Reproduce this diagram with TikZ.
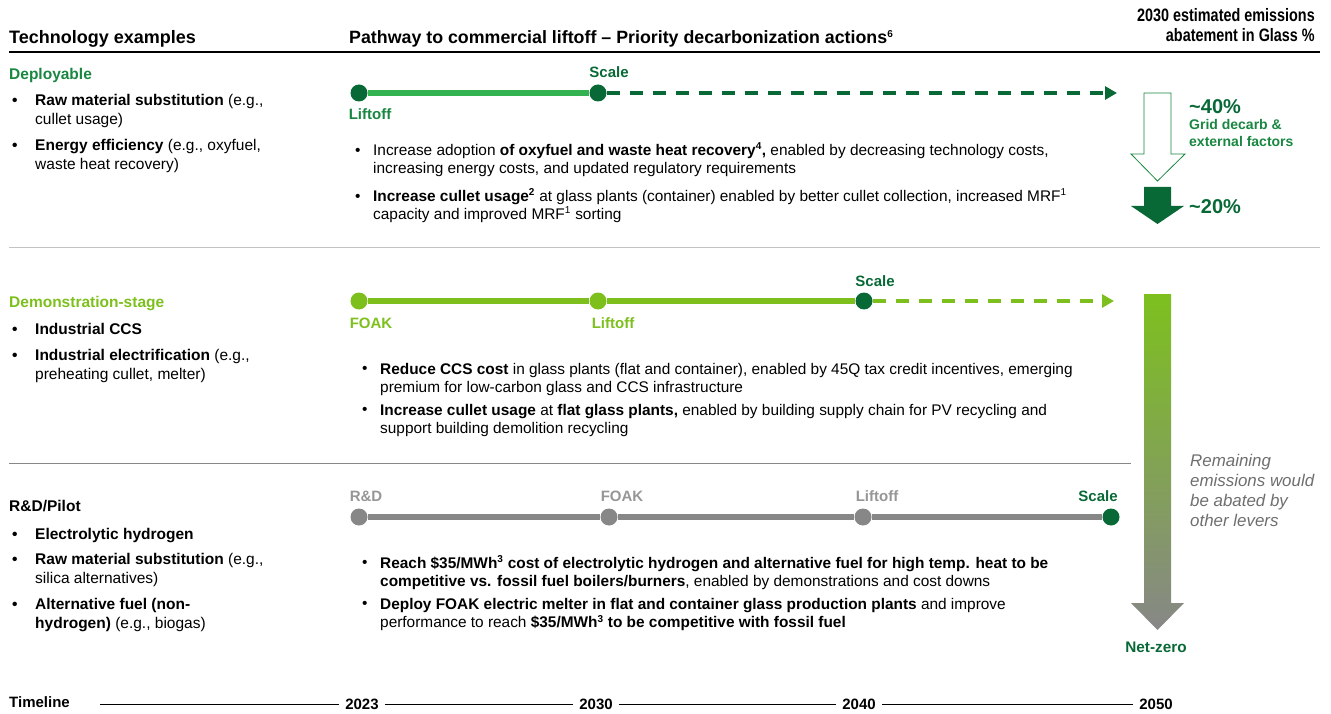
\documentclass[tikz,border=0pt]{standalone}
\usepackage{fontspec}
\setmainfont{Liberation Sans}
\newfontfamily\condfont[FakeStretch=0.8]{Liberation Sans}
\usetikzlibrary{arrows.meta}
\definecolor{dkgreen}{RGB}{8,105,55}
\definecolor{lblgreen}{RGB}{25,135,65}
\definecolor{brgreen}{RGB}{50,178,80}
\definecolor{lime}{RGB}{125,192,30}
\definecolor{tlgray}{RGB}{135,135,135}
\definecolor{lblgray}{RGB}{150,150,150}
\definecolor{itgray}{RGB}{110,110,110}
\definecolor{sepgray}{RGB}{195,195,195}
\tikzset{
  txt/.style={anchor=north west, inner sep=0pt, align=left},
  lefttxt/.style={txt, font=\fontsize{15.5}{19}\selectfont},
  r1txt/.style={txt, font=\fontsize{15.4}{18}\selectfont},
  r2txt/.style={txt, font=\fontsize{15.4}{18.5}\selectfont},
  lbul/.style={anchor=north west, inner sep=0pt, font=\bfseries\fontsize{15.5}{19}\selectfont},
  bul/.style={anchor=north west, inner sep=0pt, font=\fontsize{15.4}{18}\selectfont},
  hdr/.style={anchor=base west, inner sep=0pt, font=\bfseries\fontsize{18}{20}\selectfont},
  cat/.style={anchor=base west, inner sep=0pt, font=\bfseries\fontsize{15.5}{18}\selectfont},
  dot/.style={circle, minimum size=17pt, inner sep=0pt},
  mlbl/.style={inner sep=0pt, font=\bfseries\fontsize{15}{17}\selectfont},
  glbl/.style={inner sep=0pt, font=\bfseries\fontsize{15}{17}\selectfont, text=lblgray},
  solidline/.style={line width=6.5pt},
  dashline/.style={line width=4pt, dash pattern=on 13pt off 10pt, -{Triangle[length=12pt,width=13pt]}},
  year/.style={inner xsep=6pt, inner ysep=0pt, font=\bfseries\fontsize{15}{17}\selectfont},
}
\newcommand{\sups}[1]{\textsuperscript{\fontsize{10}{10}\selectfont #1}}
\begin{document}
\begin{tikzpicture}[x=1pt,y=-1pt]
\useasboundingbox (0,0) rectangle (1331,714);

% ---------- headers ----------
\node[hdr] (h1) at (9,44) {Technology examples};
\node[hdr, font=\bfseries\fontsize{17.8}{20}\selectfont] (h2) at (349,44) {Pathway to commercial liftoff – Priority decarbonization actions\sups{6}};
\node[anchor=north east, inner sep=0pt, align=right, font=\condfont\bfseries\fontsize{18}{20}\selectfont] (h3) at (1315,7) {\strut 2030 estimated emissions\\abatement in Glass \%};
\draw[line width=1.6pt] (9,52) -- (1320,52);

% ---------- row 1: Deployable ----------
\node[cat, text=lblgreen] (dep) at (9,80) {Deployable};
\node[lbul] (lb1) at (12,91.7) {\strut•};
\node[lefttxt] (li1) at (35,91.7) {\strut\textbf{Raw material substitution} (e.g.,\\cullet usage)};
\node[lbul] (lb2) at (12,136.7) {\strut•};
\node[lefttxt] (li2) at (35,136.7) {\strut\textbf{Energy efficiency} (e.g., oxyfuel,\\waste heat recovery)};

\node[dot, fill=dkgreen] (r1a) at (359,93) {};
\node[dot, fill=dkgreen] (r1b) at (598,93) {};
\coordinate (r1end) at (1117,93);
\draw[brgreen, solidline] (r1a.east) -- (r1b.west);
\draw[dkgreen, dashline] (r1b.east) -- (r1end);
\node[mlbl, text=dkgreen] (r1bl) at (609,72) {Scale};
\node[mlbl, text=lblgreen] (r1al) at (370,114) {Liftoff};

\node[bul] (b11) at (355,142.4) {\strut•};
\node[r1txt] (p11) at (373,142.4) {\strut Increase adoption \textbf{of oxyfuel and waste heat recovery\sups{4},} enabled by decreasing technology costs,\\increasing energy costs, and updated regulatory requirements};
\node[bul] (b12) at (355,188.4) {\strut•};
\node[r1txt] (p12) at (373,188.4) {\strut\textbf{Increase cullet usage\sups{2}} at glass plants (container) enabled by better cullet collection, increased MRF\sups{1}\\capacity and improved MRF\sups{1} sorting};

% hollow and filled arrows
\draw[lblgreen, line width=0.8pt, fill=white] (1144,93) -- (1171,93) -- (1171,154) -- (1185,154) -- (1157.5,181) -- (1131,154) -- (1144,154) -- cycle;
\fill[dkgreen] (1144,187) -- (1171,187) -- (1171,206) -- (1184,206) -- (1157.5,224) -- (1131,206) -- (1144,206) -- cycle;
\node[anchor=west, inner sep=0pt, font=\bfseries\fontsize{20}{22}\selectfont, text=dkgreen] (p40) at (1189,107) {\textasciitilde 40\%};
\node[anchor=north west, inner sep=0pt, align=left, font=\bfseries\fontsize{14}{17.5}\selectfont, text=lblgreen] (gd) at (1189,117) {\strut Grid decarb \&\\external factors};
\node[anchor=west, inner sep=0pt, font=\bfseries\fontsize{20}{22}\selectfont, text=dkgreen] (p20) at (1189,207) {\textasciitilde 20\%};

\draw[sepgray, line width=1.5pt] (9,247.5) -- (1320,247.5);

% ---------- row 2: Demonstration ----------
\node[cat, text=lime] (dem) at (9,307) {Demonstration-stage};
\node[lbul] (lb3) at (12,320.7) {\strut•};
\node[lefttxt] (li3) at (35,320.7) {\strut\textbf{Industrial CCS}};
\node[lbul] (lb4) at (12,346.7) {\strut•};
\node[lefttxt] (li4) at (35,346.7) {\strut\textbf{Industrial electrification} (e.g.,\\preheating cullet, melter)};

\node[dot, fill=lime] (r2a) at (359,301) {};
\node[dot, fill=lime] (r2b) at (598,301) {};
\node[dot, fill=dkgreen] (r2c) at (864,301) {};
\coordinate (r2end) at (1114,301);
\draw[lime, solidline] (r2a.east) -- (r2b.west);
\draw[lime, solidline] (r2b.east) -- (r2c.west);
\draw[lime, dashline] (r2c.east) -- (r2end);
\node[mlbl, text=lime] (r2al) at (371,323) {FOAK};
\node[mlbl, text=lime] (r2bl) at (613,323) {Liftoff};
\node[mlbl, text=dkgreen] (r2cl) at (875,281) {Scale};

\node[bul] (b21) at (362,361) {\strut•};
\node[r2txt] (p21) at (380,361) {\strut\textbf{Reduce CCS cost} in glass plants (flat and container), enabled by 45Q tax credit incentives, emerging\\premium for low-carbon glass and CCS infrastructure};
\node[bul] (b22) at (362,402) {\strut•};
\node[r2txt] (p22) at (380,402) {\strut\textbf{Increase cullet usage} at \textbf{flat glass plants,} enabled by building supply chain for PV recycling and\\support building demolition recycling};

% gradient arrow
\shade[top color=lime, bottom color=tlgray] (1144,294) -- (1171,294) -- (1171,603) -- (1184,603) -- (1157.5,630) -- (1131,603) -- (1144,603) -- cycle;
\node[inner sep=0pt, font=\bfseries\fontsize{15.3}{17}\selectfont, text=dkgreen] (nz) at (1156,647) {Net-zero};
\node[anchor=north west, inner sep=0pt, align=left, font=\itshape\fontsize{16.9}{20}\selectfont, text=itgray] (rem) at (1190,452.5) {\strut Remaining\\emissions would\\be abated by\\other levers};

\draw[tlgray, line width=0.8pt] (9,463) -- (1131,463);

% ---------- row 3: R&D/Pilot ----------
\node[cat] (rdp) at (9,511) {R\&D/Pilot};
\node[lbul] (lb5) at (12,525.7) {\strut•};
\node[lefttxt] (li5) at (35,525.7) {\strut\textbf{Electrolytic hydrogen}};
\node[lbul] (lb6) at (12,550.7) {\strut•};
\node[lefttxt] (li6) at (35,550.7) {\strut\textbf{Raw material substitution} (e.g.,\\silica alternatives)};
\node[lbul] (lb7) at (12,595.7) {\strut•};
\node[lefttxt] (li7) at (35,595.7) {\strut\textbf{Alternative fuel (non-}\\\textbf{hydrogen)} (e.g., biogas)};

\node[dot, fill=tlgray] (r3a) at (359,517) {};
\node[dot, fill=tlgray] (r3b) at (609,517) {};
\node[dot, fill=tlgray] (r3c) at (863,517) {};
\node[dot, fill=dkgreen] (r3d) at (1111,517) {};
\draw[tlgray, solidline] (r3a.east) -- (r3b.west);
\draw[tlgray, solidline] (r3b.east) -- (r3c.west);
\draw[tlgray, solidline] (r3c.east) -- (r3d.west);
\node[glbl] (r3al) at (366,496) {R\&D};
\node[glbl] (r3bl) at (622,496) {FOAK};
\node[glbl] (r3cl) at (877,496) {Liftoff};
\node[glbl, text=dkgreen] (r3dl) at (1098,496) {Scale};

\node[bul] (b31) at (362,555) {\strut•};
\node[r2txt] (p31) at (380,555) {\strut\textbf{Reach \$35/MWh\sups{3} cost of electrolytic hydrogen and alternative fuel for high temp. heat to be}\\\textbf{competitive vs. fossil fuel boilers/burners}, enabled by demonstrations and cost downs};
\node[bul] (b32) at (362,596) {\strut•};
\node[r2txt] (p32) at (380,596) {\strut\textbf{Deploy FOAK electric melter in flat and container glass production plants} and improve\\performance to reach \textbf{\$35/MWh\sups{3} to be competitive with fossil fuel}};

% ---------- timeline ----------
\node[anchor=base west, inner sep=0pt, font=\bfseries\fontsize{15}{17}\selectfont] (tl) at (9,707) {Timeline};
\coordinate (tlstart) at (100,704);
\node[year] (y23) at (362,704) {2023};
\node[year] (y30) at (596,704) {2030};
\node[year] (y40) at (859,704) {2040};
\node[year] (y50) at (1156,704) {2050};
\draw[line width=1pt] (tlstart) -- (y23.west);
\draw[line width=1pt] (y23.east) -- (y30.west);
\draw[line width=1pt] (y30.east) -- (y40.west);
\draw[line width=1pt] (y40.east) -- (y50.west);
\end{tikzpicture}
\end{document}
